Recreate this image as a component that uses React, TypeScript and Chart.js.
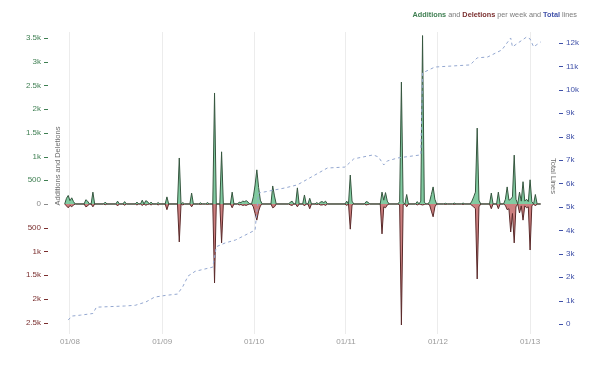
import React, { useEffect, useRef } from "react";
import { Chart, registerables } from "chart.js";

Chart.register(...registerables);

// Week index counted from 2008-01-01
const weeks = [
  -3, -2, -1, 0, 1, 2, 3, 8, 9, 10, 11, 12, 13, 14, 19, 20, 21, 26, 27, 28, 30, 31, 32, 37, 38, 39,
  40, 41, 42, 43, 44, 45, 46, 47, 49, 50, 51, 54, 55, 56, 61, 62, 63, 64, 65, 68, 69, 70, 73, 74, 75,
  77, 78, 79, 81, 82, 83, 85, 86, 87, 91, 92, 93, 95, 96, 97, 98, 99, 100, 101, 102, 103, 104, 105,
  106, 107, 108, 109, 114, 115, 116, 117, 124, 125, 126, 127, 128, 129, 130, 132, 133, 134, 135, 136,
  137, 139, 140, 141, 142, 143, 144, 145, 146, 156, 157, 158, 159, 160, 161, 167, 168, 169, 170, 176,
  177, 178, 179, 180, 181, 186, 187, 188, 189, 190, 191, 192, 196, 197, 198, 199, 200, 201, 202, 203,
  204, 205, 206, 207, 208, 212, 213, 214, 217, 218, 219, 222, 223, 224, 227, 228, 229, 230, 231, 232,
  233, 238, 239, 240, 242, 243, 244, 246, 247, 248, 249, 250, 251, 252, 253, 254, 255, 256, 257, 258,
  259, 260, 261, 262, 263, 264, 265, 267,
];
const additions = [
  0, 120, 180, 70, 130, 50, 0, 0, 90, 60, 0, 0, 250, 0, 0, 40, 0, 0, 60, 0, 0, 50, 0, 0, 40, 0,
  0, 80, 0, 70, 50, 0, 40, 0, 0, 30, 0, 0, 150, 0, 0, 970, 0, 30, 0, 0, 230, 0, 0, 25, 0,
  0, 30, 0, 0, 2340, 0, 0, 1100, 0, 0, 250, 0, 0, 40, 30, 60, 50, 70, 40, 0, 0, 150, 400,
  720, 350, 80, 0, 0, 380, 170, 0, 0, 40, 60, 0, 0, 340, 0, 0, 190, 0, 0, 120,
  0, 0, 30, 0, 40, 50, 30, 60, 0, 0, 60, 0, 610, 60, 0, 0, 50, 40, 0, 0,
  250, 80, 240, 60, 0, 0, 50, 2570, 30, 0, 200, 0, 0, 50, 0, 60, 3550, 40, 0, 0,
  50, 200, 360, 100, 0, 0, 15, 0, 0, 20, 0, 0, 20, 0, 0, 60, 150, 250, 1600, 80,
  0, 0, 230, 0, 0, 250, 0, 0, 100, 360, 80, 100, 150, 1030, 100, 0, 250, 60, 470, 60,
  100, 50, 510, 50, 0, 200, 0, 0,
];
const deletions = [
  0, 40, 80, 30, 60, 20, 0, 0, 60, 40, 0, 0, 60, 0, 0, 15, 0, 0, 40, 0, 0, 25, 0, 0, 20, 0,
  0, 30, 0, 25, 10, 0, 20, 0, 0, 20, 0, 0, 120, 0, 0, 800, 0, 20, 0, 0, 60, 0, 0, 10, 0,
  0, 10, 0, 0, 1665, 0, 0, 820, 0, 0, 80, 0, 0, 20, 10, 30, 20, 30, 10, 0, 0, 60, 200,
  340, 150, 40, 0, 0, 80, 60, 0, 0, 20, 30, 0, 0, 60, 0, 0, 40, 0, 0, 100,
  0, 0, 10, 0, 20, 20, 10, 30, 0, 0, 30, 0, 530, 20, 0, 0, 20, 10, 0, 0,
  630, 60, 80, 20, 0, 0, 20, 2550, 10, 0, 60, 0, 0, 20, 0, 10, 20, 10, 0, 0,
  20, 150, 270, 60, 0, 0, 10, 0, 0, 10, 0, 0, 10, 0, 0, 30, 60, 100, 1580, 60,
  0, 0, 100, 0, 0, 100, 0, 0, 30, 120, 100, 590, 200, 820, 60, 0, 190, 40, 340, 40,
  80, 60, 970, 40, 0, 40, 0, 0,
];

const totalWeeks = [
  -1, 1, 6, 13, 15, 31, 37, 43, 48, 54, 61, 64, 67, 71, 81, 83, 88, 94, 105, 107, 122, 129, 146,
  156, 161, 172, 175, 178, 180, 186, 199, 200, 207, 227, 231, 237, 245, 250, 251, 259, 261, 263, 267,
];
const totalLines = [
  170, 340, 380, 450, 720, 770, 800, 940, 1150, 1220, 1280, 1600, 2050, 2250, 2430, 3300, 3460,
  3590, 4010, 5590, 5810, 5940, 6660, 6700, 7050, 7220, 7130, 6790, 6960, 7090, 7220, 10720, 10970,
  11060, 11360, 11400, 11700, 12210, 11830, 12250, 12170, 11830, 12040,
];

const yearTicks = [2008, 2009, 2010, 2011, 2012, 2013];
const leftTicks = [3500, 3000, 2500, 2000, 1500, 1000, 500, 0, -500, -1000, -1500, -2000, -2500];
const rightTicks = [0, 1000, 2000, 3000, 4000, 5000, 6000, 7000, 8000, 9000, 10000, 11000, 12000];

const GREEN_TEXT = "#3f7f52";
const RED_TEXT = "#7a2e2e";
const BLUE_TEXT = "#3f50a8";
const GRAY_TEXT = "#7a7a7a";
const FONT = '"Liberation Sans", Arial, sans-serif';

function weekOfYearStart(y: number) {
  return (Date.UTC(y, 0, 1) - Date.UTC(2008, 0, 1)) / (7 * 86400000);
}
function leftColor(v: number) {
  return v > 0 ? GREEN_TEXT : v < 0 ? RED_TEXT : "#8a8a8a";
}
function fmtK(v: number) {
  const a = Math.abs(v);
  return a >= 1000 ? a / 1000 + "k" : String(a);
}

const decor = {
  id: "decor",
  afterDraw(chart: any) {
    const ctx = chart.ctx as CanvasRenderingContext2D;
    const { left, right } = chart.chartArea;
    const y = chart.scales.y;
    const y1 = chart.scales.y1;
    ctx.save();
    ctx.lineWidth = 1;
    y.ticks.forEach((t: any) => {
      const py = Math.round(y.getPixelForValue(t.value)) + 0.5;
      ctx.strokeStyle = leftColor(t.value);
      ctx.beginPath();
      ctx.moveTo(left - 8, py);
      ctx.lineTo(left - 4, py);
      ctx.stroke();
    });
    y1.ticks.forEach((t: any) => {
      const py = Math.round(y1.getPixelForValue(t.value)) + 0.5;
      ctx.strokeStyle = BLUE_TEXT;
      ctx.beginPath();
      ctx.moveTo(right + 9, py);
      ctx.lineTo(right + 13, py);
      ctx.stroke();
    });
    // axis titles
    ctx.fillStyle = "#6e6e6e";
    ctx.font = "7.5px " + FONT;
    ctx.textAlign = "center";
    ctx.textBaseline = "middle";
    ctx.save();
    ctx.translate(58, 166);
    ctx.rotate(-Math.PI / 2);
    ctx.fillText("Additions and Deletions", 0, 0);
    ctx.restore();
    ctx.save();
    ctx.translate(553, 176);
    ctx.rotate(Math.PI / 2);
    ctx.fillText("Total Lines", 0, 0);
    ctx.restore();
    // title
    const parts = [
      { t: "Additions", c: GREEN_TEXT, b: true },
      { t: " and ", c: GRAY_TEXT, b: false },
      { t: "Deletions", c: RED_TEXT, b: true },
      { t: " per week and ", c: GRAY_TEXT, b: false },
      { t: "Total", c: BLUE_TEXT, b: true },
      { t: " lines", c: GRAY_TEXT, b: false },
    ];
    const fontFor = (b: boolean) => (b ? "bold " : "") + "7.3px " + FONT;
    let total = 0;
    parts.forEach((p) => {
      ctx.font = fontFor(p.b);
      total += ctx.measureText(p.t).width;
    });
    let x = 577 - total;
    ctx.textAlign = "left";
    parts.forEach((p) => {
      ctx.font = fontFor(p.b);
      ctx.fillStyle = p.c;
      ctx.fillText(p.t, x, 15);
      x += ctx.measureText(p.t).width;
    });
    ctx.restore();
  },
};

export default function App() {
  const ref = useRef<HTMLCanvasElement | null>(null);
  useEffect(() => {
    document.body.style.margin = "0";
    if (!ref.current) return;
    const chart = new Chart(ref.current, {
      type: "line",
      data: {
        datasets: [
          {
            label: "Total Lines",
            data: totalWeeks.map((w, i) => ({ x: w, y: totalLines[i] })),
            yAxisID: "y1",
            borderColor: "#93a7d0",
            borderWidth: 1,
            borderDash: [3, 3],
            fill: false,
            pointRadius: 0,
            tension: 0,
          },
          {
            label: "Additions",
            data: weeks.map((w, i) => ({ x: w, y: additions[i] })),
            yAxisID: "y",
            borderColor: "#36563f",
            backgroundColor: "rgba(98, 190, 138, 0.8)",
            borderWidth: 1,
            fill: "origin",
            pointRadius: 0,
            tension: 0,
          },
          {
            label: "Deletions",
            data: weeks.map((w, i) => ({ x: w, y: -deletions[i] })),
            yAxisID: "y",
            borderColor: "#5a2a2a",
            backgroundColor: "rgba(192, 96, 96, 0.8)",
            borderWidth: 1,
            fill: "origin",
            pointRadius: 0,
            tension: 0,
          },
        ],
      },
      options: {
        animation: false,
        responsive: false,
        maintainAspectRatio: false,
        layout: { padding: { top: 32, left: 0, right: 0, bottom: 0 } },
        plugins: {
          legend: { display: false },
          tooltip: { enabled: false },
        },
        scales: {
          x: {
            type: "linear",
            min: -10.2,
            max: 272.3,
            afterBuildTicks: (s: any) => {
              s.ticks = yearTicks.map((yy) => ({ value: weekOfYearStart(yy) }));
            },
            afterFit: (s: any) => {
              s.height = 35;
            },
            ticks: {
              autoSkip: false,
              maxRotation: 0,
              padding: 3,
              color: "#9a9a9a",
              font: { size: 8, family: FONT },
              callback: (_v: any, i: number) => "01/" + String(yearTicks[i]).slice(2),
            },
            grid: { color: "#ececec", drawTicks: false },
            border: { display: false },
          },
          y: {
            position: "left",
            min: -2740,
            max: 3625,
            afterBuildTicks: (s: any) => {
              s.ticks = leftTicks.map((v) => ({ value: v }));
            },
            afterFit: (s: any) => {
              s.width = 52;
            },
            ticks: {
              padding: 11,
              font: { size: 8, family: FONT },
              color: (c: any) => leftColor(c.tick.value),
              callback: (v: any) => fmtK(Number(v)),
            },
            grid: { display: false, drawTicks: false },
            border: { display: false },
          },
          y1: {
            position: "right",
            min: -425,
            max: 12465,
            afterBuildTicks: (s: any) => {
              s.ticks = rightTicks.map((v) => ({ value: v }));
            },
            afterFit: (s: any) => {
              s.width = 62;
            },
            ticks: {
              padding: 16,
              font: { size: 8, family: FONT },
              color: BLUE_TEXT,
              callback: (v: any) => (Number(v) === 0 ? "0" : fmtK(Number(v))),
            },
            grid: { display: false, drawTicks: false },
            border: { display: false },
          },
        },
      },
      plugins: [decor],
    });
    return () => chart.destroy();
  }, []);
  return (
    <div style={{ width: 612, height: 369 }}>
      <canvas ref={ref} width={612} height={369} style={{ display: "block" }} />
    </div>
  );
}
